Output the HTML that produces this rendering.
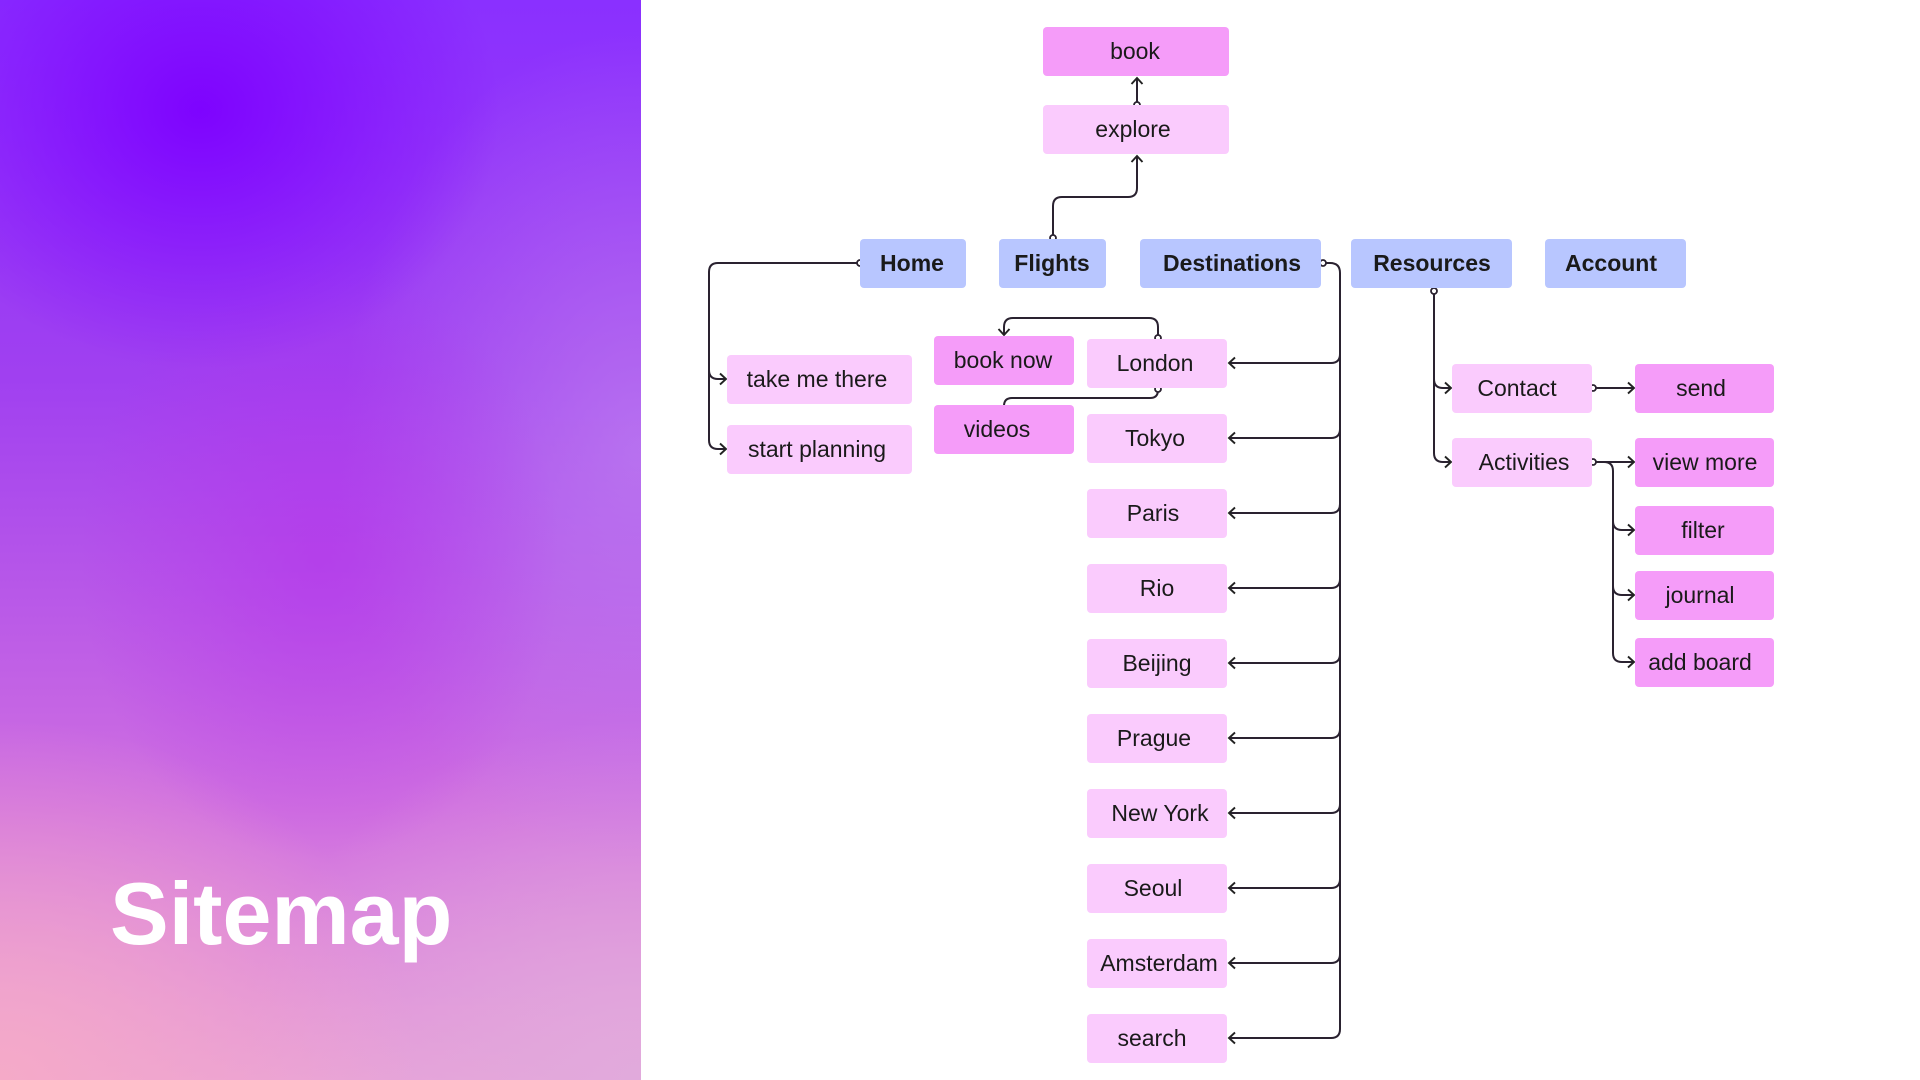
<!DOCTYPE html>
<html><head><meta charset="utf-8"><style>
html,body{margin:0;padding:0;width:1920px;height:1080px;overflow:hidden;background:#fff;font-family:"Liberation Sans",sans-serif}
#left{position:absolute;left:0;top:0;width:641px;height:1080px;
background:
radial-gradient(ellipse 300px 260px at 200px 110px, rgba(125,0,255,0.95), rgba(125,0,255,0) 100%),
radial-gradient(ellipse 240px 300px at 320px 560px, rgba(180,50,235,0.6), rgba(180,50,235,0) 100%),
radial-gradient(ellipse 300px 420px at 640px 450px, rgba(190,130,240,0.7), rgba(190,130,240,0) 100%),
radial-gradient(ellipse 420px 360px at 0px 1080px, rgba(245,170,200,1), rgba(245,170,200,0) 100%),
radial-gradient(ellipse 400px 360px at 640px 1080px, rgba(225,170,220,1), rgba(225,170,220,0) 100%),
linear-gradient(180deg,#8a30ff 0%,#a040f0 35%,#d070e0 75%,#e8a0d8 100%);}
#left .t{position:absolute;left:110px;top:870px;font-size:88px;font-weight:bold;color:#fff;line-height:1}
svg{position:absolute;left:0;top:0}
</style></head><body>
<div id="left"><div class="t">Sitemap</div></div>
<svg width="1920" height="1080" viewBox="0 0 1920 1080" font-family="Liberation Sans, sans-serif">
<defs>
<marker id="a" viewBox="0 0 14 14" refX="12" refY="7" markerWidth="14" markerHeight="14" orient="auto" markerUnits="userSpaceOnUse">
<path d="M6 1.5 L12 7 L6 12.5" fill="none" stroke="#222" stroke-width="1.9"/></marker>
</defs>
<g fill="none" stroke="#2a2230" stroke-width="2">
<path d="M1137 104 V78" marker-end="url(#a)"/>
<path d="M1053 238 V206 Q1053 197 1062 197 H1128 Q1137 197 1137 188 V156" marker-end="url(#a)"/>
<path d="M860 263 H718 Q709 263 709 272 V370 Q709 379 718 379 H726" marker-end="url(#a)"/>
<path d="M709 370 V440 Q709 449 718 449 H726" marker-end="url(#a)"/>
<path d="M1158 338 V327 Q1158 318 1149 318 H1013 Q1004 318 1004 327 V335" marker-end="url(#a)"/>
<path d="M1158 389 V390 Q1158 398 1150 398 H1012 Q1004 398 1004 406"/>
<path d="M1324 263 H1330 Q1340 263 1340 273 V1029 Q1340 1038 1331 1038 H1229" marker-end="url(#a)"/>
<path d="M1340 354 Q1340 363 1331 363 H1229" marker-end="url(#a)"/>
<path d="M1340 429 Q1340 438 1331 438 H1229" marker-end="url(#a)"/>
<path d="M1340 504 Q1340 513 1331 513 H1229" marker-end="url(#a)"/>
<path d="M1340 579 Q1340 588 1331 588 H1229" marker-end="url(#a)"/>
<path d="M1340 654 Q1340 663 1331 663 H1229" marker-end="url(#a)"/>
<path d="M1340 729 Q1340 738 1331 738 H1229" marker-end="url(#a)"/>
<path d="M1340 804 Q1340 813 1331 813 H1229" marker-end="url(#a)"/>
<path d="M1340 879 Q1340 888 1331 888 H1229" marker-end="url(#a)"/>
<path d="M1340 954 Q1340 963 1331 963 H1229" marker-end="url(#a)"/>
<path d="M1434 292 V379 Q1434 388 1443 388 H1451" marker-end="url(#a)"/>
<path d="M1434 379 V453 Q1434 462 1443 462 H1451" marker-end="url(#a)"/>
<path d="M1593 388 H1634" marker-end="url(#a)"/>
<path d="M1593 462 H1634" marker-end="url(#a)"/>
<path d="M1604 462 Q1613 462 1613 471 V521 Q1613 530 1622 530 H1634" marker-end="url(#a)"/>
<path d="M1613 521 V586 Q1613 595 1622 595 H1634" marker-end="url(#a)"/>
<path d="M1613 586 V653 Q1613 662 1622 662 H1634" marker-end="url(#a)"/>
</g>
<g fill="#fff" stroke="#2a2230" stroke-width="1.8">
<circle cx="1137" cy="105" r="3"/><circle cx="1053" cy="238" r="3"/><circle cx="860" cy="263" r="3"/>
<circle cx="1158" cy="338" r="3"/><circle cx="1158" cy="389" r="3"/><circle cx="1323" cy="263" r="3"/>
<circle cx="1434" cy="291" r="3"/><circle cx="1593" cy="388" r="3"/><circle cx="1593" cy="462" r="3"/>
</g>
<g font-size="23" fill="#1a1a1a" text-anchor="middle">
<g>
<rect x="1043" y="27" width="186" height="49" rx="4" fill="#f59cf9"/>
<rect x="1043" y="105" width="186" height="49" rx="4" fill="#facbfd"/>
<rect x="934" y="336" width="140" height="49" rx="4" fill="#f59cf9"/>
<rect x="934" y="405" width="140" height="49" rx="4" fill="#f59cf9"/>
<rect x="727" y="355" width="185" height="49" rx="4" fill="#facbfd"/>
<rect x="727" y="425" width="185" height="49" rx="4" fill="#facbfd"/>
<rect x="1452" y="364" width="140" height="49" rx="4" fill="#facbfd"/>
<rect x="1452" y="438" width="140" height="49" rx="4" fill="#facbfd"/>
<rect x="1635" y="364" width="139" height="49" rx="4" fill="#f59cf9"/>
<rect x="1635" y="438" width="139" height="49" rx="4" fill="#f59cf9"/>
<rect x="1635" y="506" width="139" height="49" rx="4" fill="#f59cf9"/>
<rect x="1635" y="571" width="139" height="49" rx="4" fill="#f59cf9"/>
<rect x="1635" y="638" width="139" height="49" rx="4" fill="#f59cf9"/>
<rect x="1087" y="339" width="140" height="49" rx="4" fill="#facbfd"/>
<rect x="1087" y="414" width="140" height="49" rx="4" fill="#facbfd"/>
<rect x="1087" y="489" width="140" height="49" rx="4" fill="#facbfd"/>
<rect x="1087" y="564" width="140" height="49" rx="4" fill="#facbfd"/>
<rect x="1087" y="639" width="140" height="49" rx="4" fill="#facbfd"/>
<rect x="1087" y="714" width="140" height="49" rx="4" fill="#facbfd"/>
<rect x="1087" y="789" width="140" height="49" rx="4" fill="#facbfd"/>
<rect x="1087" y="864" width="140" height="49" rx="4" fill="#facbfd"/>
<rect x="1087" y="939" width="140" height="49" rx="4" fill="#facbfd"/>
<rect x="1087" y="1014" width="140" height="49" rx="4" fill="#facbfd"/>
<rect x="860" y="239" width="106" height="49" rx="4" fill="#b8c6ff"/>
<rect x="999" y="239" width="107" height="49" rx="4" fill="#b8c6ff"/>
<rect x="1140" y="239" width="181" height="49" rx="4" fill="#b8c6ff"/>
<rect x="1351" y="239" width="161" height="49" rx="4" fill="#b8c6ff"/>
<rect x="1545" y="239" width="141" height="49" rx="4" fill="#b8c6ff"/>
</g>
<text x="1135" y="59">book</text>
<text x="1133" y="137">explore</text>
<text x="1003" y="368">book now</text>
<text x="997" y="437">videos</text>
<text x="817" y="387">take me there</text>
<text x="817" y="457">start planning</text>
<text x="1517" y="396">Contact</text>
<text x="1524" y="470">Activities</text>
<text x="1701" y="396">send</text>
<text x="1705" y="470">view more</text>
<text x="1703" y="538">filter</text>
<text x="1700" y="603">journal</text>
<text x="1700" y="670">add board</text>
<text x="1155" y="371">London</text>
<text x="1155" y="446">Tokyo</text>
<text x="1153" y="521">Paris</text>
<text x="1157" y="596">Rio</text>
<text x="1157" y="671">Beijing</text>
<text x="1154" y="746">Prague</text>
<text x="1160" y="821">New York</text>
<text x="1153" y="896">Seoul</text>
<text x="1159" y="971">Amsterdam</text>
<text x="1152" y="1046">search</text>
<g font-weight="bold" font-size="23">
<text x="912" y="271">Home</text>
<text x="1052" y="271">Flights</text>
<text x="1232" y="271">Destinations</text>
<text x="1432" y="271">Resources</text>
<text x="1611" y="271">Account</text>
</g>
</g>
</svg>
</body></html>
